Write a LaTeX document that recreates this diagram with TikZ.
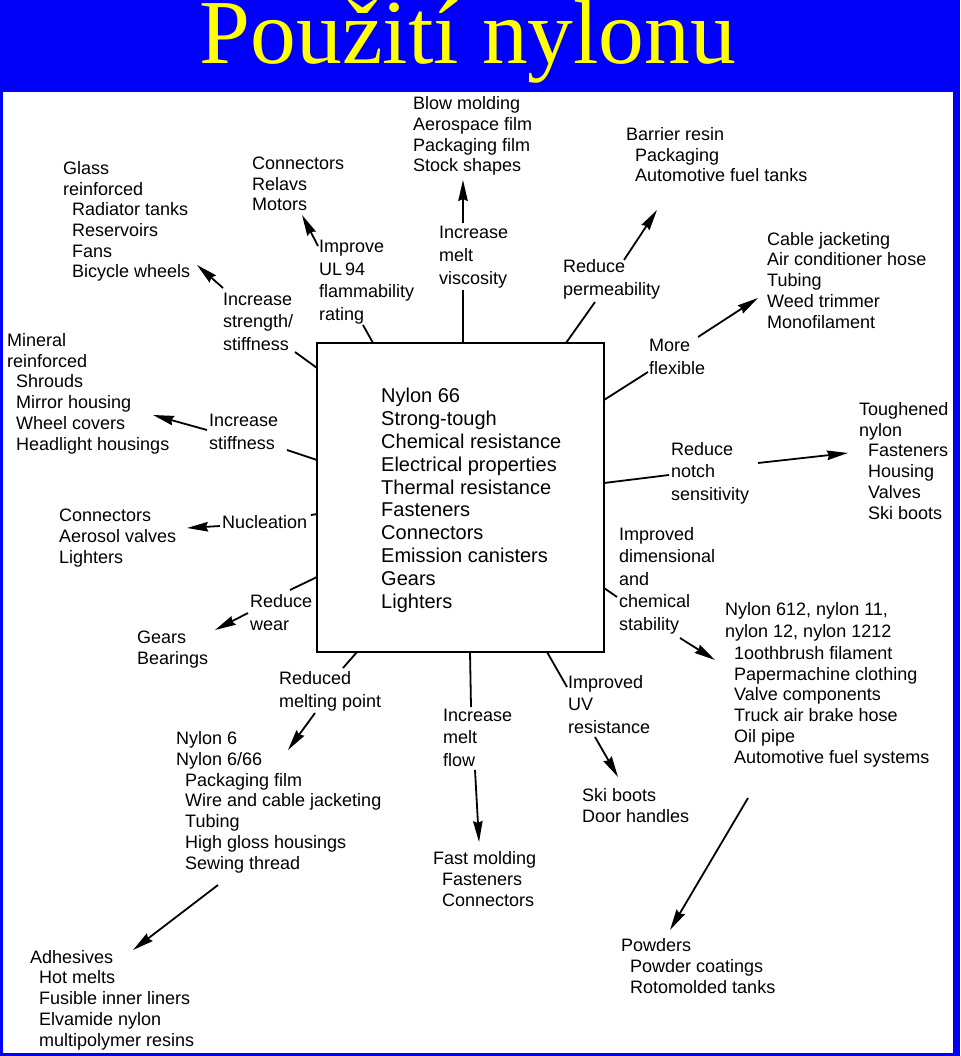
\documentclass[tikz,border=0pt]{standalone}
\usepackage{fontspec}
\setmainfont{Liberation Sans}
\newfontfamily\titlefont{Liberation Serif}
\usetikzlibrary{arrows.meta}
\definecolor{slideblue}{RGB}{0,0,250}
\definecolor{titleyellow}{RGB}{255,255,0}
\newcommand{\itm}{\hspace*{9pt}}

\begin{document}
\begin{tikzpicture}[x=1pt,y=-1pt,
  lst/.style={anchor=base west,inner sep=0pt,align=left,font=\fontsize{18}{20.7}\selectfont},
  lbl/.style={anchor=base west,inner sep=0pt,align=left,font=\fontsize{18}{22.5}\selectfont},
  con/.style={line width=1.8pt},
  arr/.style={line width=1.8pt,-{Stealth[length=21pt,width=9.5pt,inset=2pt]}}]
 \useasboundingbox (0,0) rectangle (960,1056);
 \fill[slideblue] (0,0) rectangle (960,1056);
 \fill[white] (3,92) rectangle (953,1053);
 \node[text=titleyellow,font=\titlefont\fontsize{91.5}{91.5}\selectfont,anchor=base,inner sep=0pt] (title) at (468,64) {Použití nylonu};

 \node[draw,line width=1.8pt,minimum width=287pt,minimum height=309pt,inner sep=0pt] (nyl) at (460.5,497.5) {};
 \node[anchor=base west,inner sep=0pt,align=left,font=\fontsize{20}{22.8}\selectfont] (nyltxt) at (381,608) {Nylon 66\\Strong-tough\\Chemical resistance\\Electrical properties\\Thermal resistance\\Fasteners\\Connectors\\Emission canisters\\Gears\\Lighters};

 \node[lst] (glass) at (63,278) {Glass\\reinforced\\\itm Radiator tanks\\\itm Reservoirs\\\itm Fans\\\itm Bicycle wheels};
 \node[lst] (relays) at (252,211) {Connectors\\Relavs\\Motors};
 \node[lst] (blow) at (413,172) {Blow molding\\Aerospace film\\Packaging film\\Stock shapes};
 \node[lst] (barrier) at (626,182) {Barrier resin\\\itm Packaging\\\itm Automotive fuel tanks};
 \node[lst] (cable) at (767,328) {Cable jacketing\\Air conditioner hose\\Tubing\\Weed trimmer\\Monofilament};
 \node[lst] (mineral) at (7,450) {Mineral\\reinforced\\\itm Shrouds\\\itm Mirror housing\\\itm Wheel covers\\\itm Headlight housings};
 \node[lst] (tough) at (859,519) {Toughened\\nylon\\\itm Fasteners\\\itm Housing\\\itm Valves\\\itm Ski boots};
 \node[lst] (aerosol) at (59,563) {Connectors\\Aerosol valves\\Lighters};
 \node[lst] (gears) at (137,664) {Gears\\Bearings};
 \node[lst] (n612) at (725,763) {Nylon 612, nylon 11,\\[1.5pt]nylon 12, nylon 1212\\[1.5pt]\itm 1oothbrush filament\\\itm Papermachine clothing\\\itm Valve components\\\itm Truck air brake hose\\\itm Oil pipe\\\itm Automotive fuel systems};
 \node[lst] (nylon6) at (176,869) {Nylon 6\\Nylon 6/66\\\itm Packaging film\\\itm Wire and cable jacketing\\\itm Tubing\\\itm High gloss housings\\\itm Sewing thread};
 \node[lst] (ski) at (582,822) {Ski boots\\Door handles};
 \node[lst] (fast) at (433,906) {Fast molding\\\itm Fasteners\\\itm Connectors};
 \node[lst] (powders) at (621,993) {Powders\\\itm Powder coatings\\\itm Rotomolded tanks};
 \node[lst] (adh) at (30,1046) {Adhesives\\\itm Hot melts\\\itm Fusible inner liners\\\itm Elvamide nylon\\\itm multipolymer resins};

 \node[lbl] (improve) at (319,320) {Improve\\UL\,94\\flammability\\rating};
 \node[lbl] (incvisc) at (439,284) {Increase\\melt\\viscosity};
 \node[lbl] (redperm) at (563,295) {Reduce\\permeability};
 \node[lbl] (incstr) at (223,350) {Increase\\strength/\\stiffness};
 \node[lbl] (flex) at (649,374) {More\\flexible};
 \node[lbl] (incstf) at (209,449) {Increase\\stiffness};
 \node[lbl] (notch) at (671,500) {Reduce\\notch\\sensitivity};
 \node[lbl] (nucl) at (222,528) {Nucleation};
 \node[lbl] (dimstab) at (619,630) {Improved\\dimensional\\and\\chemical\\stability};
 \node[lbl] (wear) at (250,630) {Reduce\\wear};
 \node[lbl] (melt) at (279,707) {Reduced\\melting point};
 \node[lbl] (uv) at (568,733) {Improved\\UV\\resistance};
 \node[lbl] (incflow) at (443,766) {Increase\\melt\\flow};

 \coordinate (lstr) at (295,352); \coordinate (bstr) at (317,368);
 \coordinate (lrat) at (363,325); \coordinate (brat) at (373,343);
 \coordinate (lvis) at (463,290); \coordinate (bvis) at (463,343);
 \coordinate (lper) at (595,302); \coordinate (bper) at (566,343);
 \coordinate (lflx) at (648,372); \coordinate (bflx) at (604,400);
 \coordinate (lnot) at (669,475); \coordinate (bnot) at (604,483);
 \coordinate (ldim) at (617,597); \coordinate (bdim) at (604,588);
 \coordinate (luv) at (567,687); \coordinate (buv) at (547,652);
 \coordinate (lflo) at (471,707); \coordinate (bflo) at (470,652);
 \coordinate (lmel) at (343,668); \coordinate (bmel) at (357,652);
 \coordinate (lwea) at (290,590); \coordinate (bwea) at (317,577);
 \coordinate (lnuc) at (311,515); \coordinate (bnuc) at (317,514);
 \coordinate (lstf) at (287,450); \coordinate (bstf) at (317,460);
 \foreach \p in {str,rat,vis,per,flx,not,dim,uv,flo,mel,wea,nuc,stf}
  \draw[con] (l\p) -- (b\p);

 \coordinate (timp) at (318,246); \coordinate (himp) at (302,215);
 \coordinate (tstr) at (223,288); \coordinate (hstr) at (197,265);
 \coordinate (tvis) at (463,223); \coordinate (hvis) at (463,180);
 \coordinate (tper) at (624,260); \coordinate (hper) at (657,210);
 \coordinate (tflx) at (698,337); \coordinate (hflx) at (758,298);
 \coordinate (tnot) at (758,463); \coordinate (hnot) at (848,453);
 \coordinate (tdim) at (680,638); \coordinate (hdim) at (715,660);
 \coordinate (tpow) at (748,798); \coordinate (hpow) at (670,930);
 \coordinate (tuv) at (595,737); \coordinate (huv) at (618,777);
 \coordinate (tflo) at (475,770); \coordinate (hflo) at (479,842);
 \coordinate (tmel) at (315,713); \coordinate (hmel) at (288,750);
 \coordinate (tadh) at (218,885); \coordinate (hadh) at (133,950);
 \coordinate (twea) at (248,613); \coordinate (hwea) at (215,630);
 \coordinate (tnuc) at (220,526); \coordinate (hnuc) at (187,528);
 \coordinate (tstf) at (207,430); \coordinate (hstf) at (153,415);
 \foreach \p in {imp,str,vis,per,flx,not,dim,pow,uv,flo,mel,adh,wea,nuc,stf}
  \draw[arr] (t\p) -- (h\p);
\end{tikzpicture}
\end{document}
